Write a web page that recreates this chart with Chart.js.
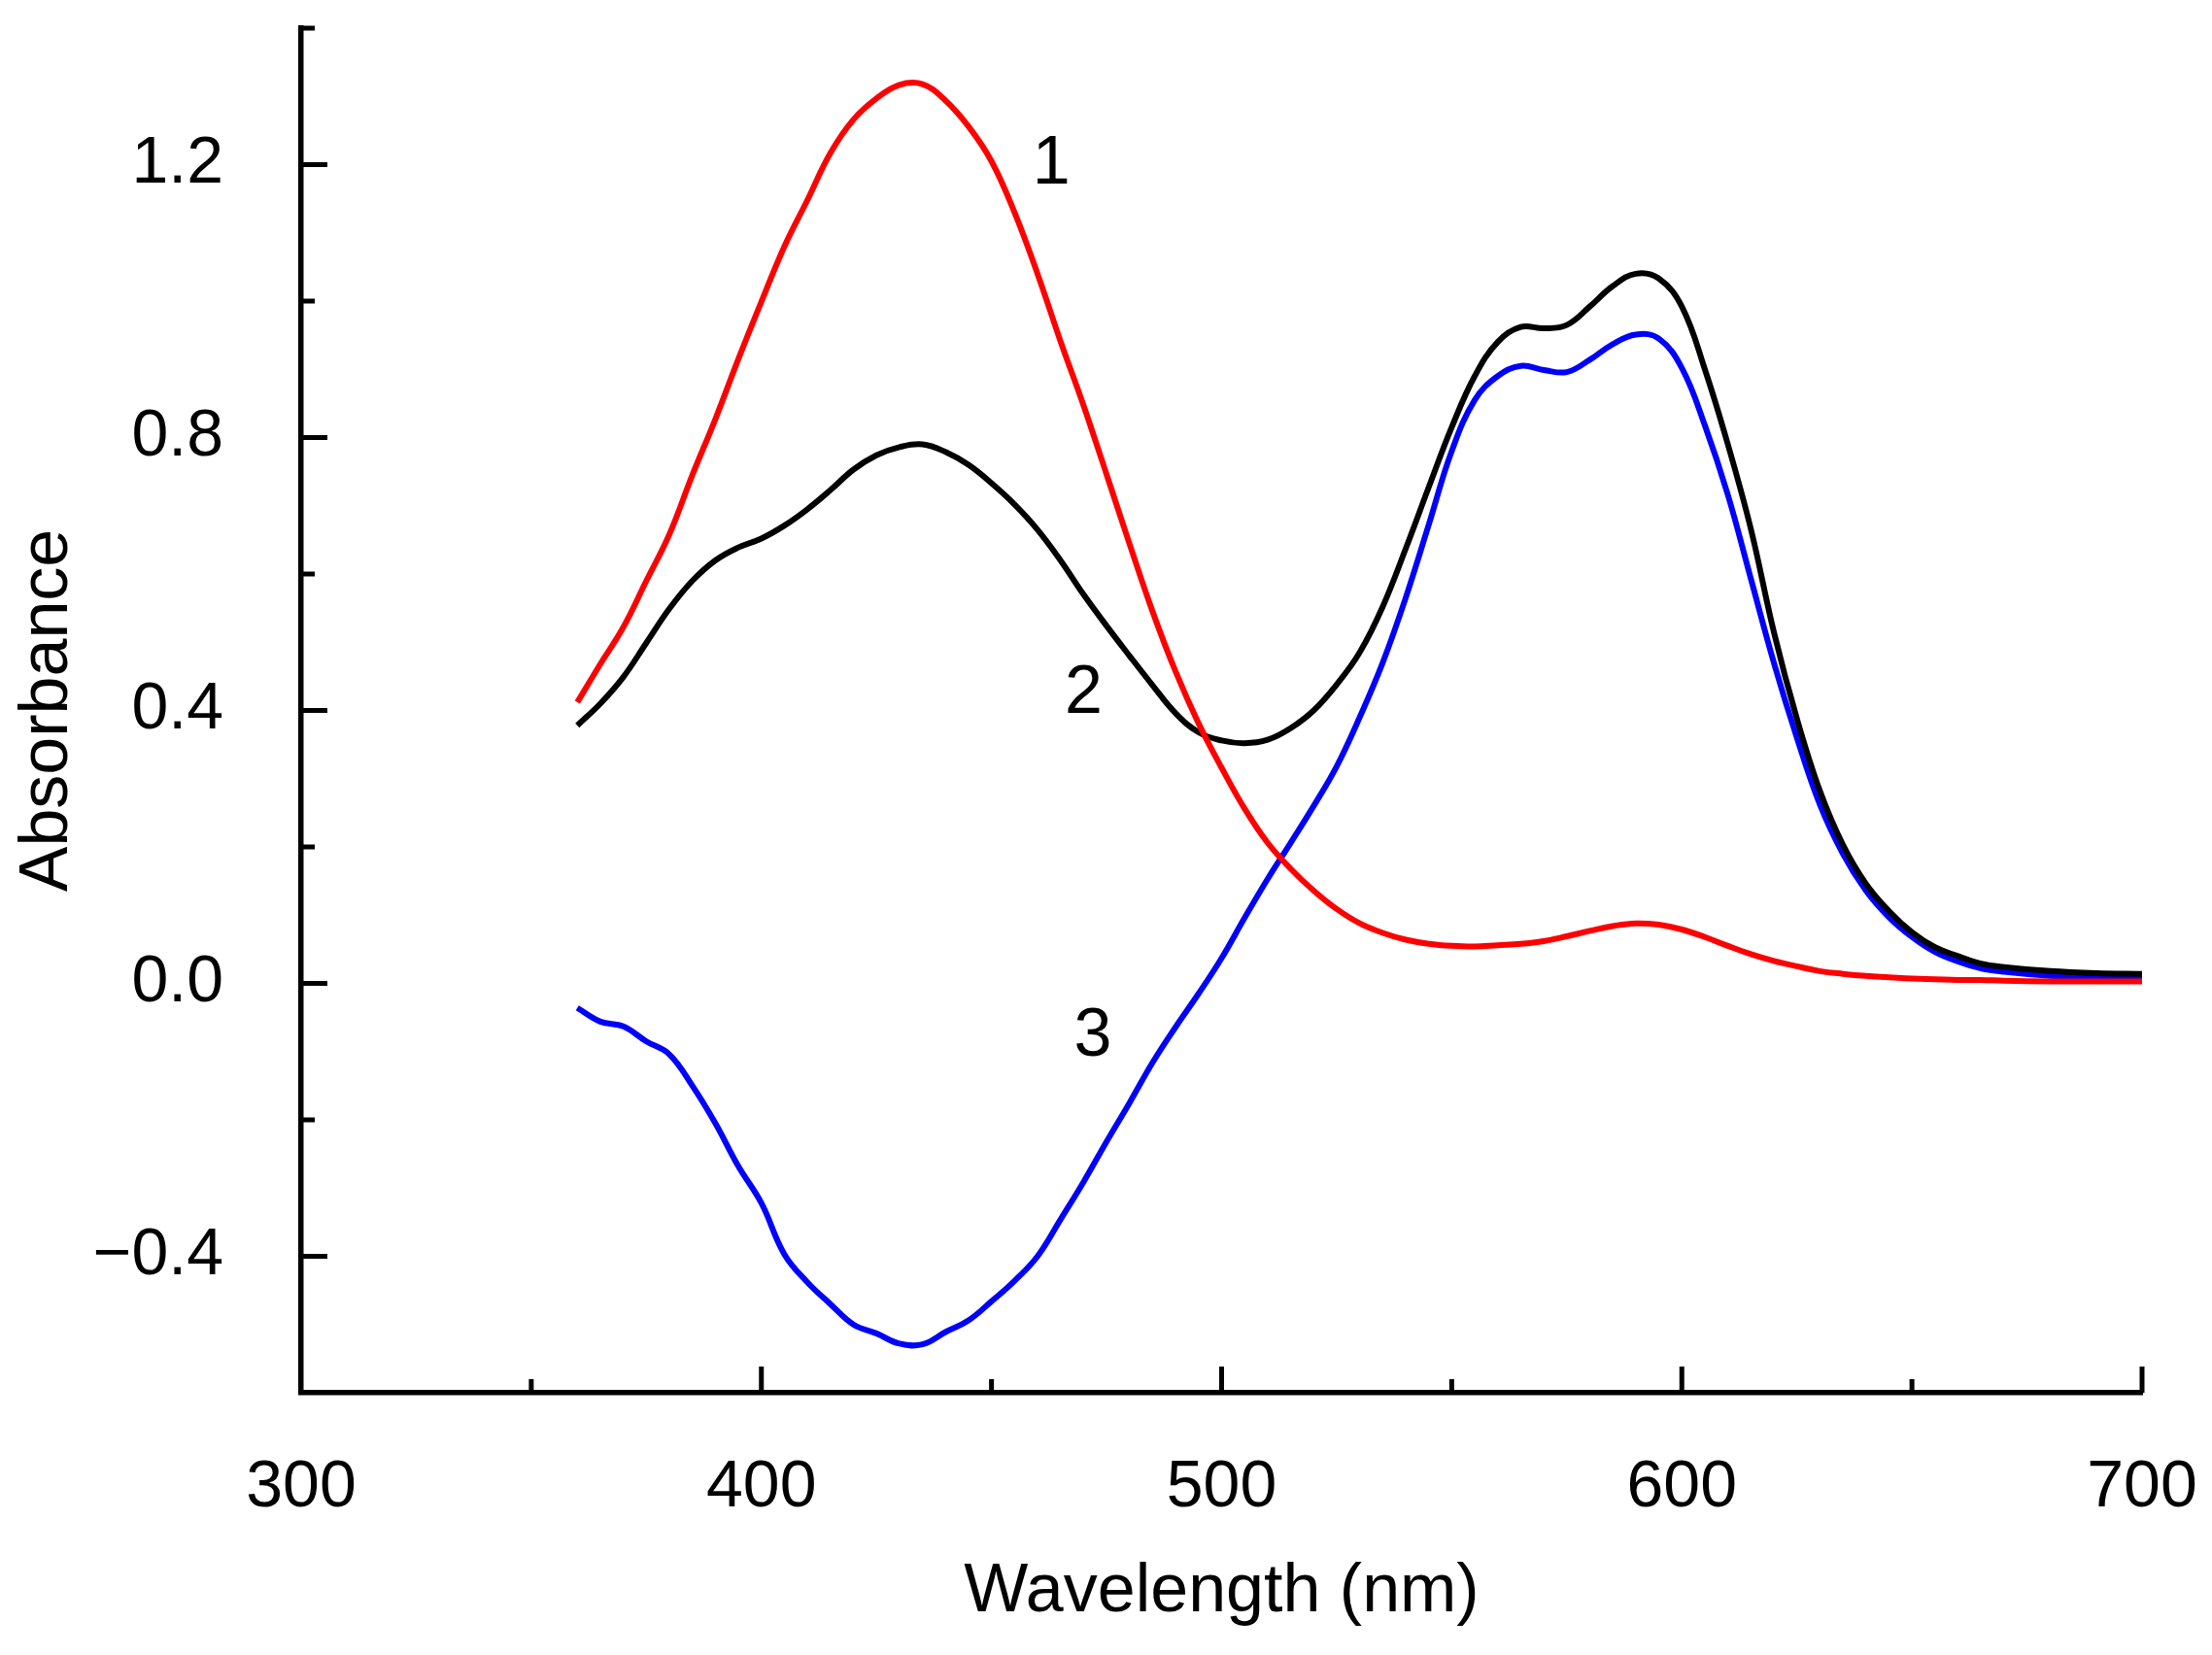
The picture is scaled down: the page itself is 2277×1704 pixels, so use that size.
<!DOCTYPE html>
<html>
<head>
<meta charset="utf-8">
<script src="https://cdn.jsdelivr.net/npm/chart.js@4.4.1/dist/chart.umd.min.js"></script>
<style>
html, body { margin: 0; padding: 0; background: #ffffff; }
canvas { display: block; }
</style>
</head>
<body>
<canvas id="chart" width="2277" height="1704"></canvas>
<script>
// ---- Data ----
const wavelengths = [360,365,370,375,380,385,390,395,400,405,410,415,420,425,430,435,440,445,450,455,
  460,465,470,475,480,485,490,495,500,505,510,515,520,525,530,535,540,545,550,555,
  560,565,570,575,580,585,590,595,600,605,610,615,620,625,630,635,640,645,650,655,
  660,665,670,680,690,700];

const series1 = [0.412,0.468,0.522,0.590,0.658,0.745,0.827,0.915,0.999,1.080,1.148,1.217,1.266,1.297,1.317,1.318,1.294,1.256,1.205,1.130,
  1.040,0.941,0.847,0.746,0.644,0.545,0.457,0.381,0.316,0.256,0.206,0.168,0.136,0.109,0.088,0.074,0.064,0.058,0.055,0.054,
  0.056,0.058,0.062,0.069,0.077,0.084,0.088,0.086,0.079,0.068,0.055,0.043,0.033,0.025,0.018,0.014,0.011,0.009,0.007,0.006,
  0.005,0.005,0.004,0.003,0.003,0.003];

const series2 = [0.378,0.410,0.449,0.499,0.549,0.590,0.620,0.639,0.652,0.671,0.695,0.723,0.753,0.774,0.786,0.790,0.779,0.760,0.733,0.702,
  0.665,0.620,0.570,0.524,0.480,0.437,0.396,0.368,0.356,0.352,0.357,0.374,0.400,0.438,0.485,0.552,0.637,0.727,0.815,0.890,
  0.940,0.962,0.960,0.965,0.992,1.022,1.040,1.033,0.992,0.900,0.790,0.666,0.515,0.388,0.282,0.203,0.146,0.106,0.075,0.053,
  0.040,0.029,0.024,0.018,0.015,0.014];

const series3 = [-0.036,-0.056,-0.063,-0.085,-0.104,-0.150,-0.205,-0.268,-0.322,-0.397,-0.438,-0.470,-0.500,-0.513,-0.528,-0.529,-0.511,-0.494,-0.466,-0.436,
  -0.400,-0.346,-0.291,-0.232,-0.175,-0.116,-0.064,-0.015,0.037,0.096,0.153,0.206,0.260,0.318,0.390,0.470,0.565,0.672,0.780,0.855,
  0.890,0.905,0.899,0.896,0.914,0.937,0.951,0.945,0.902,0.818,0.716,0.593,0.470,0.360,0.262,0.190,0.136,0.097,0.068,0.046,
  0.032,0.022,0.017,0.011,0.008,0.007];

const seriesNames = ['1', '2', '3'];
const xTickValues = [300, 400, 500, 600, 700];
const xTickLabels = ['300', '400', '500', '600', '700'];
const yTickValues = [-0.4, 0, 0.4, 0.8, 1.2];
const yTickLabels = ['\u22120.4', '0.0', '0.4', '0.8', '1.2'];
const xAxisTitle = 'Wavelength (nm)';
const yAxisTitle = 'Absorbance';

// ---- Styling / layout ----
const FONT = '"Liberation Sans", Arial, Helvetica, sans-serif';
const curveLabelAnchors = [
  { text: seriesNames[0], x: 463, y: 1.20 },
  { text: seriesNames[1], x: 470, y: 0.424 },
  { text: seriesNames[2], x: 472, y: -0.079 }
];

function toPoints(ys) { return wavelengths.map((w, i) => ({ x: w, y: ys[i] })); }
function near(a, b) { return Math.abs(a - b) < 1e-6; }

const inwardTicks = {
  id: 'inwardTicks',
  afterDraw(chart) {
    const ctx = chart.ctx;
    const xs = chart.scales.x, ys = chart.scales.y;
    const area = chart.chartArea;
    ctx.save();
    ctx.strokeStyle = '#000';
    ctx.lineWidth = 5;
    ctx.lineCap = 'butt';
    xs.ticks.forEach(t => {
      if (near(t.value, xs.min)) return;
      const px = xs.getPixelForValue(t.value);
      const major = near(t.value % 100, 0);
      const len = major ? 27 : 14;
      ctx.beginPath();
      ctx.moveTo(px, area.bottom);
      ctx.lineTo(px, area.bottom - len);
      ctx.stroke();
    });
    ys.ticks.forEach(t => {
      if (near(t.value, ys.min)) return;
      const py = ys.getPixelForValue(t.value);
      const r = t.value / 0.4;
      const major = near(r, Math.round(r));
      const len = major ? 27 : 14;
      ctx.beginPath();
      ctx.moveTo(area.left, py);
      ctx.lineTo(area.left + len, py);
      ctx.stroke();
    });
    // curve number labels
    ctx.fillStyle = '#000';
    ctx.font = '70px ' + FONT;
    ctx.textAlign = 'center';
    ctx.textBaseline = 'middle';
    curveLabelAnchors.forEach(l => {
      ctx.fillText(l.text, xs.getPixelForValue(l.x), ys.getPixelForValue(l.y));
    });
    ctx.restore();
  }
};

const lineStyle = { borderWidth: 6, pointRadius: 0, fill: false, tension: 0.4, borderJoinStyle: 'round' };

new Chart(document.getElementById('chart'), {
  type: 'line',
  data: {
    datasets: [
      Object.assign({ label: seriesNames[0], data: toPoints(series1), borderColor: '#ff0000' }, lineStyle),
      Object.assign({ label: seriesNames[1], data: toPoints(series2), borderColor: '#000000' }, lineStyle),
      Object.assign({ label: seriesNames[2], data: toPoints(series3), borderColor: '#0000ff' }, lineStyle)
    ]
  },
  options: {
    responsive: false,
    animation: false,
    devicePixelRatio: 1,
    layout: { padding: { left: 0, right: 72, top: 29, bottom: 0 } },
    plugins: { legend: { display: false }, tooltip: { enabled: false } },
    scales: {
      x: {
        type: 'linear', min: 300, max: 700,
        grid: { display: false, drawTicks: false },
        border: { display: true, color: '#000', width: 5.5 },
        ticks: {
          stepSize: 50, autoSkip: false, maxRotation: 0, padding: 57, color: '#000',
          font: { family: FONT, size: 68 },
          callback: (v) => { const i = xTickValues.findIndex(t => near(t, v)); return i >= 0 ? xTickLabels[i] : ''; }
        },
        title: { display: true, text: xAxisTitle, color: '#000', font: { family: FONT, size: 70 }, padding: { top: 0, bottom: 22 } },
        afterFit(s) { s.height = 270; s.paddingLeft = 0; s.paddingRight = 0; s.paddingTop = 0; s.paddingBottom = 0; }
      },
      y: {
        type: 'linear', min: -0.6, max: 1.4,
        grid: { display: false, drawTicks: false },
        border: { display: true, color: '#000', width: 5.5 },
        ticks: {
          stepSize: 0.2, autoSkip: false, padding: 80, color: '#000',
          font: { family: FONT, size: 68 },
          callback: (v) => { const i = yTickValues.findIndex(t => near(t, v)); return i >= 0 ? yTickLabels[i] : ''; }
        },
        title: { display: true, text: yAxisTitle, color: '#000', font: { family: FONT, size: 70 }, padding: { top: 8, bottom: 0 } },
        afterFit(s) { s.width = 310; s.paddingLeft = 0; s.paddingRight = 0; s.paddingTop = 0; s.paddingBottom = 0; }
      }
    }
  },
  plugins: [inwardTicks]
});
</script>
</body>
</html>
